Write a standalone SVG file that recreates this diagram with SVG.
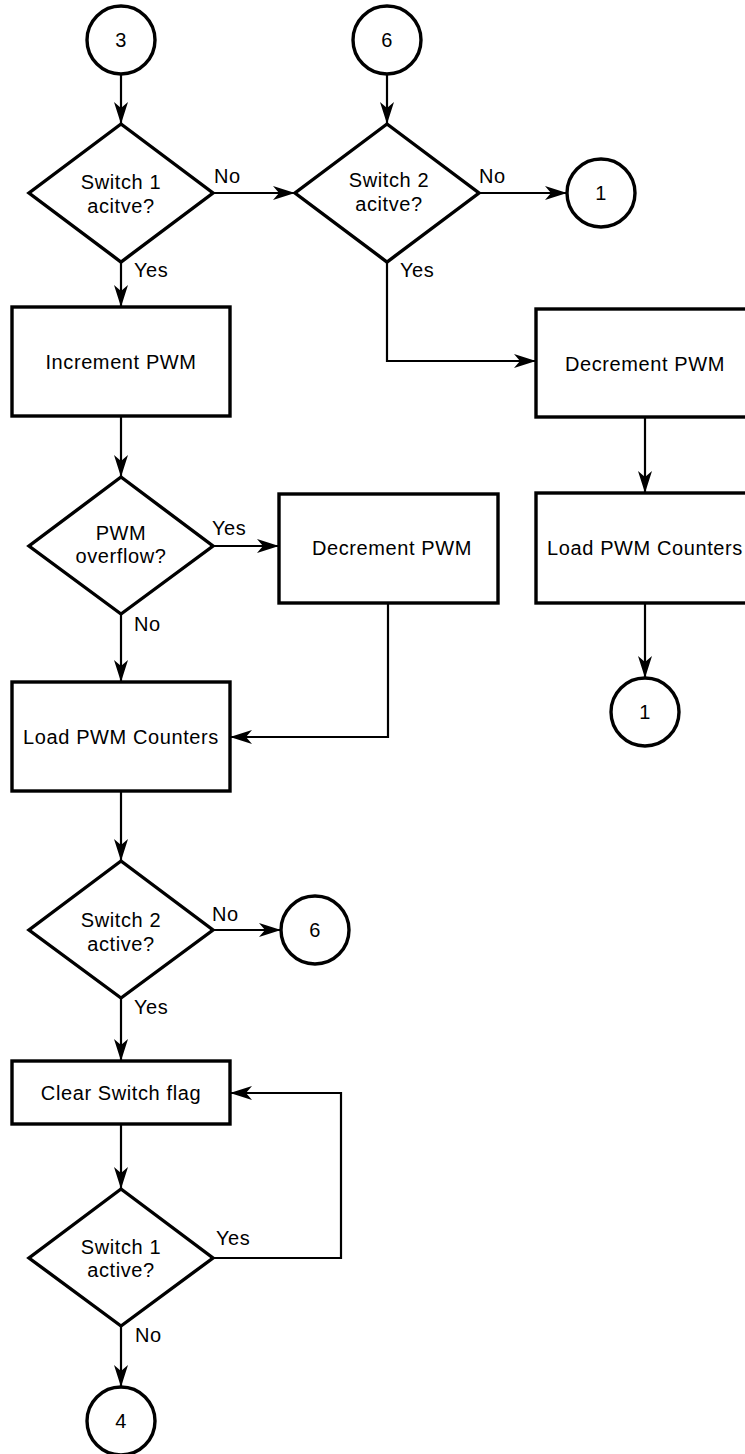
<svg xmlns="http://www.w3.org/2000/svg" width="745" height="1454" viewBox="0 0 745 1454">
<defs>
<marker id="arr" viewBox="0 0 22 14" refX="22" refY="7" markerWidth="22" markerHeight="14" markerUnits="userSpaceOnUse" orient="auto">
<path d="M0,0 L22,7 L0,14 L6,7 Z" fill="#000"/>
</marker>
</defs>
<style>
.s{fill:#fff;stroke:#000;stroke-width:3.4}
.c{fill:none;stroke:#000;stroke-width:2.2;marker-end:url(#arr)}
text{font-family:"Liberation Sans",Arial,Helvetica,sans-serif;font-size:20px;letter-spacing:0.6px;fill:#000}
.m{text-anchor:middle}
</style>
<rect width="745" height="1454" fill="#fff"/>
<g id="connectors">
<path class="c" d="M121,74 V124"/>
<path class="c" d="M387,74 V124"/>
<path class="c" d="M213,193 H295"/>
<path class="c" d="M479,193 H567"/>
<path class="c" d="M121,262 V307"/>
<path class="c" d="M387,262 V361 H536"/>
<path class="c" d="M645,417 V493"/>
<path class="c" d="M645,603 V678"/>
<path class="c" d="M121,416 V477"/>
<path class="c" d="M213,546 H279"/>
<path class="c" d="M121,614 V682"/>
<path class="c" d="M388,603 V737 H230"/>
<path class="c" d="M121,791 V861"/>
<path class="c" d="M213,930 H281"/>
<path class="c" d="M121,998 V1061"/>
<path class="c" d="M121,1124 V1189"/>
<path class="c" d="M213,1258 H341 V1093 H230"/>
<path class="c" d="M121,1326 V1387"/>
</g>
<g id="labels">
<text x="214" y="183">No</text>
<text x="134" y="277">Yes</text>
<text x="479" y="183">No</text>
<text x="400" y="277">Yes</text>
<text x="212" y="535">Yes</text>
<text x="134" y="631">No</text>
<text x="212" y="921">No</text>
<text x="134" y="1014">Yes</text>
<text x="216" y="1245">Yes</text>
<text x="135" y="1342">No</text>
</g>
<g id="c3"><circle class="s" cx="121" cy="40" r="34"/><text class="m" x="121" y="47">3</text></g>
<g id="c6top"><circle class="s" cx="387" cy="40" r="34"/><text class="m" x="387" y="47">6</text></g>
<g id="d1"><polygon class="s" points="121,124 213,193 121,262 29,193"/><text class="m" x="121" y="189">Switch 1</text><text class="m" x="121" y="213">acitve?</text></g>
<g id="d2"><polygon class="s" points="387,124 479,193 387,262 295,193"/><text class="m" x="389" y="187">Switch 2</text><text class="m" x="389" y="211">acitve?</text></g>
<g id="c1a"><circle class="s" cx="601" cy="193" r="34"/><text class="m" x="601" y="200">1</text></g>
<g id="inc"><rect class="s" x="12" y="307" width="218" height="109"/><text class="m" x="121" y="369">Increment PWM</text></g>
<g id="dec2"><rect class="s" x="536" y="309" width="218" height="108"/><text class="m" x="645" y="371">Decrement PWM</text></g>
<g id="load2"><rect class="s" x="536" y="493" width="218" height="110"/><text class="m" x="645" y="555">Load PWM Counters</text></g>
<g id="c1b"><circle class="s" cx="645" cy="712" r="34"/><text class="m" x="645" y="719">1</text></g>
<g id="d3"><polygon class="s" points="121,477 213,546 121,614 29,546"/><text class="m" x="121" y="540">PWM</text><text class="m" x="121" y="563">overflow?</text></g>
<g id="dec1"><rect class="s" x="279" y="494" width="219" height="109"/><text class="m" x="392" y="555">Decrement PWM</text></g>
<g id="load1"><rect class="s" x="12" y="682" width="218" height="109"/><text class="m" x="121" y="744">Load PWM Counters</text></g>
<g id="d4"><polygon class="s" points="121,861 213,930 121,998 29,930"/><text class="m" x="121" y="927">Switch 2</text><text class="m" x="121" y="951">active?</text></g>
<g id="c6b"><circle class="s" cx="315" cy="930" r="34"/><text class="m" x="315" y="937">6</text></g>
<g id="clear"><rect class="s" x="12" y="1061" width="218" height="63"/><text class="m" x="121" y="1100">Clear Switch flag</text></g>
<g id="d5"><polygon class="s" points="121,1189 213,1258 121,1326 29,1258"/><text class="m" x="121" y="1254">Switch 1</text><text class="m" x="121" y="1277">active?</text></g>
<g id="c4"><circle class="s" cx="121" cy="1421" r="34"/><text class="m" x="121" y="1428">4</text></g>
</svg>
